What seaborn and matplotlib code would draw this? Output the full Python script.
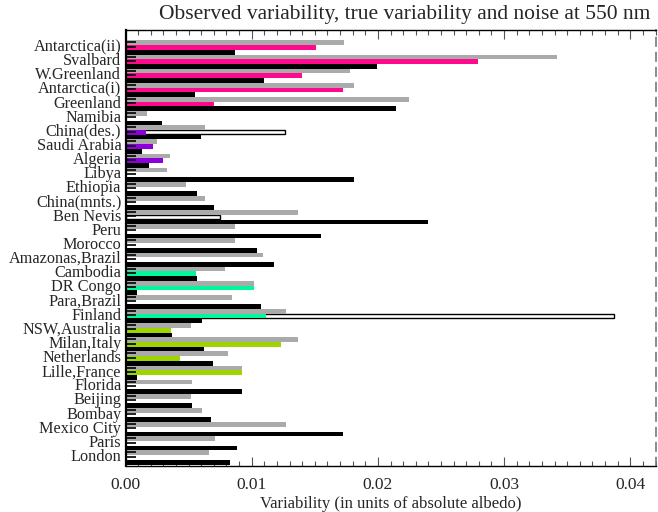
import numpy as np
import pandas as pd
import matplotlib
matplotlib.use("Agg")
import matplotlib.pyplot as plt
import seaborn as sns

sites = ["Antarctica(ii)", "Svalbard", "W.Greenland", "Antarctica(i)", "Greenland",
         "Namibia", "China(des.)", "Saudi Arabia", "Algeria", "Libya", "Ethiopia",
         "China(mnts.)", "Ben Nevis", "Peru", "Morocco", "Amazonas,Brazil", "Cambodia",
         "DR Congo", "Para,Brazil", "Finland", "NSW,Australia", "Milan,Italy",
         "Netherlands", "Lille,France", "Florida", "Beijing", "Bombay", "Mexico City",
         "Paris", "London"]

# observed variability (grey)
observed = [0.0173, 0.0342, 0.0178, 0.0181, 0.0225,
            0.0017, 0.0063, 0.0025, 0.0035, 0.0033, 0.0048,
            0.0063, 0.0137, 0.0087, 0.0087, 0.0109, 0.0079,
            0.0102, 0.0084, 0.0127, 0.0052, 0.0137,
            0.0081, 0.0092, 0.0053, 0.0052, 0.0061, 0.0127,
            0.0071, 0.0066]
# true variability (coloured by surface type)
true_var = [0.0151, 0.0279, 0.0140, 0.0172, 0.0070,
            np.nan, 0.0016, 0.0022, 0.0030, np.nan, np.nan,
            np.nan, np.nan, np.nan, np.nan, np.nan, 0.0056,
            0.0102, np.nan, 0.0111, 0.0036, 0.0123,
            0.0043, 0.0092, np.nan, np.nan, np.nan, np.nan,
            np.nan, np.nan]
# noise (black)
noise = [0.0087, 0.0199, 0.0110, 0.0055, 0.0214,
         0.0029, 0.0060, 0.0013, 0.0019, 0.0181, 0.0057,
         0.0070, 0.0240, 0.0155, 0.0104, 0.0118, 0.0057,
         0.0009, 0.0107, 0.0061, 0.0037, 0.0062,
         0.0069, 0.0009, 0.0092, 0.0053, 0.0068, 0.0172,
         0.0088, 0.0083]
# alternative true-variability estimate (white, outlined)
alt_true = [np.nan] * 6 + [0.0126] + [np.nan] * 5 + [0.0075] + [np.nan] * 6 + [0.0387] + [np.nan] * 10

surface_colors = ["#ff0a8c"] * 5 + [None] + ["#8c00dc"] * 3 + [None] * 7 + \
                 ["#00f79c"] * 2 + [None] + ["#00f79c"] + ["#9ed400"] * 4 + [None] * 6

n = len(sites)

sns.set_theme(style="white")
plt.rcParams["font.family"] = ["Liberation Serif", "DejaVu Serif"]

fig = plt.figure(figsize=(6.58, 5.12), dpi=100)
ax = fig.add_axes([125.5 / 658, 1 - 466 / 512, 530 / 658, 436 / 512])

df = pd.DataFrame({
    "site": sites * 3,
    "series": ["obs"] * n + ["true"] * n + ["noise"] * n,
    "value": list(observed) + list(true_var) + list(noise),
})

sns.barplot(data=df, x="value", y="site", hue="series",
            hue_order=["obs", "true", "noise"],
            palette={"obs": "#aaaaaa", "true": "#ff0a8c", "noise": "black"},
            orient="h", width=1.0, dodge=True, errorbar=None, legend=False,
            saturation=1, linewidth=0, ax=ax)

# recolour the "true variability" bars by surface type
for p in ax.patches:
    yc = p.get_y() + p.get_height() / 2
    i = int(round(yc))
    if abs(yc - i) < 0.05 and 0 <= i < n and surface_colors[i] is not None:
        p.set_facecolor(surface_colors[i])

# white outlined bars
alt = np.array(alt_true, dtype=float)
mask = ~np.isnan(alt)
ax.barh(np.arange(n)[mask], alt[mask], height=0.3, color="white",
        edgecolor="black", linewidth=1.0, zorder=0.9)

ax.set_axisbelow(False)
ax.xaxis.set_zorder(0.5)
ax.set_xlim(0, 0.042)
ax.set_ylim(29.6, -1.24)

ax.set_xticks([0, 0.01, 0.02, 0.03, 0.04], labels=["0.00", "0.01", "0.02", "0.03", "0.04"])
ax.set_xticks(np.arange(0, 0.0421, 0.001), minor=True)
ax.tick_params(axis="x", which="major", direction="in", top=True, bottom=True,
               length=6.5, width=0.8, color="#555555", pad=8, labelsize=12.5)
ax.tick_params(axis="x", which="minor", direction="in", top=True, bottom=True,
               length=3.6, width=0.8, color="#555555")

ax.set_yticks(np.arange(n) - 0.18, labels=sites)
ax.set_yticks(np.concatenate([np.arange(n) - 0.36, np.arange(n) - 0.06]), minor=True)
ax.tick_params(axis="y", which="major", length=0, pad=3, labelsize=11.7, left=True)
ax.tick_params(axis="y", which="minor", direction="in", length=7.5, width=1.2,
               color="black", left=True, right=False)

for s in ["left", "bottom", "top"]:
    ax.spines[s].set_color("black")
    ax.spines[s].set_linewidth(1.0)
ax.spines["left"].set_linewidth(1.6)
ax.spines["right"].set_color("#777777")
ax.spines["right"].set_linewidth(1.2)
ax.spines["right"].set_linestyle((0, (5, 4)))

ax.set_xlabel("Variability (in units of absolute albedo)", fontsize=12, labelpad=2)
ax.set_ylabel("")
fig.text(405 / 658, 1 - 15 / 512, "Observed variability, true variability and noise at 550 nm",
         ha="center", va="center", fontsize=15.5)

fig.savefig("out.png", dpi=100)
